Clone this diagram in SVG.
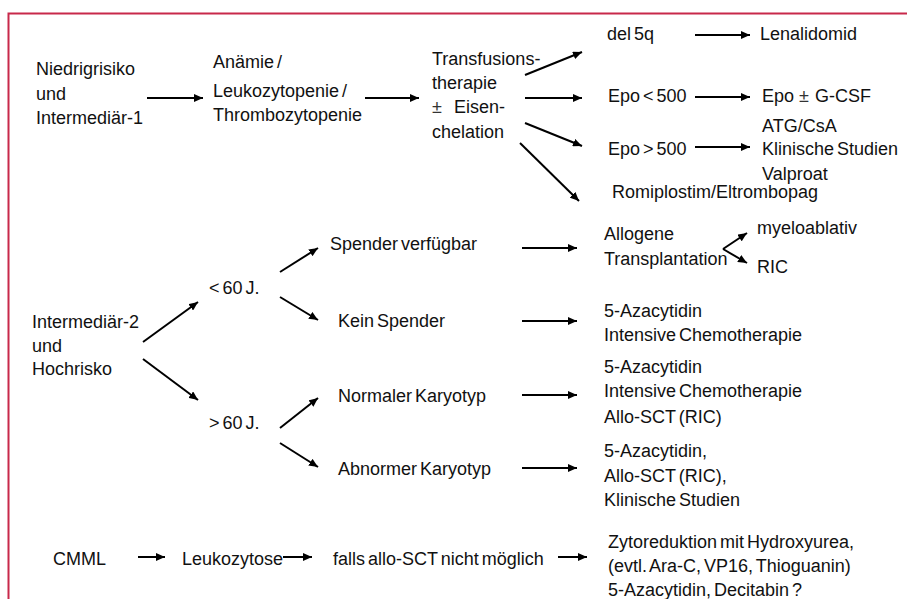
<svg xmlns="http://www.w3.org/2000/svg" width="907" height="599" viewBox="0 0 907 599">
<defs>
<marker id="ah" markerUnits="userSpaceOnUse" markerWidth="10" markerHeight="8" refX="9" refY="4" orient="auto">
<path d="M0,0 L9,4 L0,8 z" fill="#000"/>
</marker>
<style>
text{font-family:"Liberation Sans",Arial,sans-serif;font-size:18px;fill:#111;word-spacing:-2px}
.pm{font-weight:300;fill:#333}
.c line{stroke:#000;stroke-width:2;marker-end:url(#ah)}
</style>
</defs>
<rect width="907" height="599" fill="#fff"/>
<path d="M8.5,599 V13.5 H907" fill="none" stroke="#c8294a" stroke-width="2"/>

<g class="c" id="connectors">
<line x1="147" y1="98" x2="203" y2="98"/>
<line x1="365" y1="98" x2="419" y2="98"/>
<line x1="525" y1="75" x2="582" y2="52"/>
<line x1="525" y1="98" x2="582" y2="98"/>
<line x1="525" y1="123" x2="582" y2="146"/>
<line x1="520" y1="143" x2="579" y2="201"/>
<line x1="695" y1="35" x2="750" y2="35"/>
<line x1="695" y1="97" x2="750" y2="97"/>
<line x1="695" y1="147" x2="750" y2="147"/>
<line x1="143" y1="342" x2="198" y2="302"/>
<line x1="143" y1="359" x2="198" y2="400"/>
<line x1="280" y1="272" x2="318" y2="248"/>
<line x1="280" y1="297" x2="318" y2="320"/>
<line x1="280" y1="428" x2="318" y2="398"/>
<line x1="280" y1="443" x2="318" y2="467"/>
<line x1="522" y1="248" x2="577" y2="248"/>
<line x1="522" y1="321" x2="577" y2="321"/>
<line x1="522" y1="395" x2="577" y2="395"/>
<line x1="522" y1="468" x2="577" y2="468"/>
<line x1="723" y1="249" x2="747" y2="233"/>
<line x1="723" y1="249" x2="747" y2="263"/>
<line x1="138" y1="557" x2="165" y2="557"/>
<line x1="283" y1="557" x2="312" y2="557"/>
<line x1="558" y1="557" x2="587" y2="557"/>
</g>

<g id="n-niedrig"><text x="36" y="75">Niedrigrisiko</text><text x="36" y="100">und</text><text x="36" y="124">Intermediär-1</text></g>
<g id="n-anaemie"><text x="213" y="68">Anämie /</text><text x="213" y="97">Leukozytopenie /</text><text x="213" y="121">Thrombozytopenie</text></g>
<g id="n-transfusion"><text x="432" y="65">Transfusions-</text><text x="432" y="89">therapie</text><text x="432" y="113"><tspan class="pm">±</tspan><tspan x="454">Eisen-</tspan></text><text x="432" y="138">chelation</text></g>
<g id="n-del5q"><text x="607" y="40">del 5q</text></g>
<g id="n-lenalidomid"><text x="760" y="40">Lenalidomid</text></g>
<g id="n-epo-lt"><text x="608" y="102">Epo &lt; 500</text></g>
<g id="n-epo-gcsf"><text x="762" y="102">Epo<tspan class="pm" dx="5">±</tspan><tspan dx="6">G-CSF</tspan></text></g>
<g id="n-epo-gt"><text x="608" y="155">Epo &gt; 500</text></g>
<g id="n-atg"><text x="762" y="132">ATG/CsA</text><text x="762" y="155">Klinische Studien</text><text x="762" y="180">Valproat</text></g>
<g id="n-romi"><text x="612" y="198">Romiplostim/Eltrombopag</text></g>

<g id="n-int2"><text x="32" y="328">Intermediär-2</text><text x="32" y="352">und</text><text x="32" y="375">Hochrisko</text></g>
<g id="n-lt60"><text x="209" y="294">&lt; 60 J.</text></g>
<g id="n-gt60"><text x="209" y="429">&gt; 60 J.</text></g>
<g id="n-spender"><text x="330" y="250">Spender verfügbar</text></g>
<g id="n-kein"><text x="338" y="327">Kein Spender</text></g>
<g id="n-normal"><text x="338" y="402">Normaler Karyotyp</text></g>
<g id="n-abnormal"><text x="338" y="475">Abnormer Karyotyp</text></g>
<g id="n-allogen"><text x="604" y="240">Allogene</text><text x="604" y="265">Transplantation</text></g>
<g id="n-myelo"><text x="757" y="234">myeloablativ</text></g>
<g id="n-ric"><text x="757" y="273">RIC</text></g>
<g id="n-aza1"><text x="604" y="317">5-Azacytidin</text><text x="604" y="341">Intensive Chemotherapie</text></g>
<g id="n-aza2"><text x="604" y="373">5-Azacytidin</text><text x="604" y="397">Intensive Chemotherapie</text><text x="604" y="423">Allo-SCT (RIC)</text></g>
<g id="n-aza3"><text x="604" y="457">5-Azacytidin,</text><text x="604" y="482">Allo-SCT (RIC),</text><text x="604" y="506">Klinische Studien</text></g>

<g id="n-cmml"><text x="53" y="565">CMML</text></g>
<g id="n-leuko"><text x="182" y="565">Leukozytose</text></g>
<g id="n-falls"><text x="333" y="565">falls allo-SCT nicht möglich</text></g>
<g id="n-zyto"><text x="608" y="548">Zytoreduktion mit Hydroxyurea,</text><text x="608" y="572">(evtl. Ara-C, VP16, Thioguanin)</text><text x="608" y="596">5-Azacytidin, Decitabin ?</text></g>
</svg>
